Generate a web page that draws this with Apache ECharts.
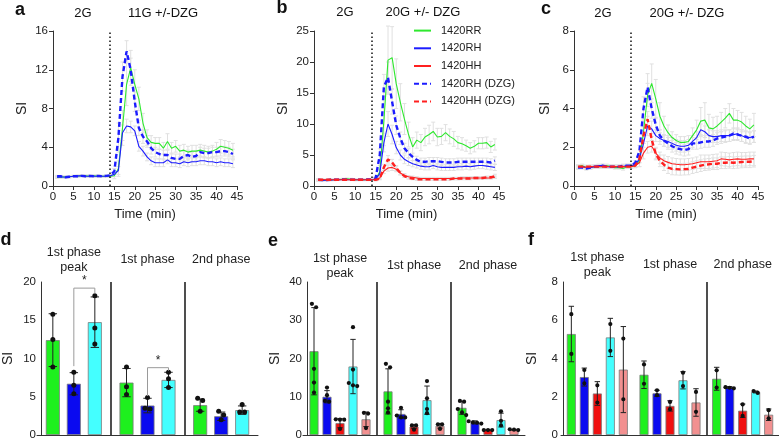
<!DOCTYPE html>
<html>
<head>
<meta charset="utf-8">
<script src="https://cdn.jsdelivr.net/npm/echarts@6/dist/echarts.min.js"></script>
<style>
  html, body { margin: 0; padding: 0; background: #fff; }
  #chart { width: 779px; height: 441px; }
</style>
</head>
<body>
<div id="chart"></div>
<script>
const FONT = "'Liberation Sans', Arial, sans-serif"

// time axis (min)
const minutes = [1,2,3,4,5,6,7,8,9,10,11,12,13,14,15,16,17,18,19,20,21,22,23,24,25,26,27,28,29,30,31,32,33,34,35,36,37,38,39,40,41,42,43,44]

// panel a : 11G +/- DZG
const aRR  = [0.9,0.9,0.95,0.95,1.0,1.0,1.05,1.05,1.0,1.05,1.0,1.0,1.0,1.0, 1.05,1.8,6.0,10.5,12.2,10.5,9.0,6.5,5.0,4.5, 4.4,4.4,3.9,4.6,3.9,4.1,3.6,3.7,3.5,3.6, 3.6,3.7,3.6,3.5,3.6,3.8,4.1,4.0,3.9,3.7]
const aRH  = [0.9,0.95,0.9,0.95,1.0,1.05,1.05,1.0,1.0,1.0,1.0,1.0,1.0,1.05, 1.2,1.6,5.5,6.2,6.1,5.7,4.1,3.6,3.0,2.6, 2.4,2.4,2.4,2.7,2.4,2.4,2.3,2.5,2.4,2.5, 2.5,2.6,2.6,2.5,2.5,2.4,2.5,2.4,2.4,2.3]
const aRHD = [1.0,1.0,0.9,0.95,1.0,1.0,1.05,1.0,1.05,1.0,1.05,1.0,1.05,1.1, 1.5,5.0,11.3,13.9,12.0,8.7,6.0,5.1,4.6,3.9, 3.5,3.3,3.2,3.2,2.9,2.8,2.8,3.1,3.2,3.0, 3.1,3.5,3.4,3.4,3.5,3.5,3.6,3.6,3.5,3.3]
const aRRerr  = [0.1,0.1,0.1,0.1,0.1,0.1,0.1,0.1,0.1,0.1,0.1,0.1,0.1,0.1, 0.3,0.8,1.8,2.2,1.8,1.5,1.2,1.0,0.8,0.7, 0.6,0.6,0.6,0.8,0.6,0.6,0.6,0.6,0.6,0.6, 0.6,0.6,0.6,0.6,0.6,0.7,0.7,0.7,0.7,0.7]
const aRHerr  = [0.1,0.1,0.1,0.1,0.1,0.1,0.1,0.1,0.1,0.1,0.1,0.1,0.1,0.1, 0.2,0.4,0.8,0.7,0.6,0.5,0.5,0.5,0.4,0.4, 0.4,0.4,0.4,0.4,0.4,0.4,0.4,0.4,0.4,0.4, 0.4,0.4,0.4,0.4,0.4,0.4,0.4,0.4,0.4,0.4]
const aRHDerr = [0.1,0.1,0.1,0.1,0.1,0.1,0.1,0.1,0.1,0.1,0.1,0.1,0.1,0.1, 0.3,1.5,1.5,1.1,1.2,1.0,0.8,0.7,0.6,0.6, 0.5,0.5,0.5,0.5,0.5,0.5,0.5,0.5,0.5,0.5, 0.5,0.5,0.5,0.5,0.5,0.5,0.5,0.5,0.5,0.5]

// panel b : 20G +/- DZG
const bRR  = [0.9,0.9,0.95,1.0,1.0,1.05,1.1,1.15,1.1,1.0,1.0,1.0,1.0,1.0, 1.1,2.3,10.5,20.3,20.7,16.5,13.5,10.8,8.3,6.3, 7.4,7.0,7.9,8.3,8.8,7.9,8.0,8.6,8.0,7.6, 7.0,6.8,6.5,6.1,6.4,6.9,6.9,7.0,6.3,6.7]
const bRH  = [0.9,0.9,0.95,0.95,1.0,1.0,1.05,1.05,1.0,1.0,1.0,1.0,1.0,1.0, 1.1,2.0,7.0,10.0,8.3,6.2,5.0,4.3,3.9,3.6, 3.4,3.2,3.1,3.1,3.3,3.1,3.0,3.0,3.0,3.0, 3.1,3.1,3.2,3.1,3.2,3.3,3.3,3.2,3.1,3.0]
const bRHD = [1.0,0.95,0.95,1.0,1.0,1.0,1.05,1.0,1.0,1.0,1.0,1.0,1.05,1.05, 1.3,5.0,16.0,17.5,13.6,9.8,7.7,6.1,5.3,4.7, 4.2,3.9,3.9,4.0,4.0,4.0,3.9,3.8,3.8,3.8, 3.9,3.9,3.9,3.9,3.9,3.9,3.9,3.9,3.8,4.1]
const bHH  = [1.05,1.05,1.0,1.0,1.0,1.0,1.0,1.0,1.0,1.0,1.0,1.0,1.0,1.0, 1.0,1.3,2.4,2.9,3.0,2.7,2.1,1.7,1.5,1.4, 1.3,1.2,1.2,1.2,1.2,1.2,1.2,1.2,1.2,1.2, 1.2,1.3,1.3,1.3,1.3,1.3,1.3,1.3,1.3,1.4]
const bHHD = [1.0,1.0,1.0,1.0,1.0,1.0,1.0,1.0,1.0,1.0,1.0,1.0,1.0,1.0, 1.0,1.2,3.0,4.3,3.8,2.9,2.1,1.6,1.3,1.2, 1.1,1.1,1.1,1.1,1.1,1.1,1.1,1.1,1.1,1.2, 1.2,1.2,1.2,1.2,1.3,1.3,1.3,1.4,1.4,1.6]
const bRRerr  = [0.15,0.15,0.15,0.15,0.15,0.15,0.15,0.15,0.15,0.15,0.15,0.15,0.15,0.15, 0.3,1.0,4.0,5.5,5.0,4.0,3.0,2.5,2.0,1.5, 1.3,1.3,1.4,1.5,1.5,1.4,1.3,1.3,1.2,1.2, 1.0,1.0,0.9,0.9,0.9,0.9,0.9,0.9,0.9,0.9]
const bRHerr  = [0.1,0.1,0.1,0.1,0.1,0.1,0.1,0.1,0.1,0.1,0.1,0.1,0.1,0.1, 0.2,0.6,1.5,2.0,1.5,1.0,0.8,0.7,0.6,0.5, 0.5,0.5,0.5,0.5,0.5,0.5,0.5,0.5,0.5,0.5, 0.5,0.5,0.5,0.5,0.5,0.5,0.5,0.5,0.5,0.5]
const bRHDerr = [0.1,0.1,0.1,0.1,0.1,0.1,0.1,0.1,0.1,0.1,0.1,0.1,0.1,0.1, 0.2,1.0,2.0,2.5,2.0,1.5,1.0,0.8,0.7,0.6, 0.6,0.6,0.6,0.6,0.6,0.6,0.6,0.6,0.6,0.6, 0.6,0.6,0.6,0.6,0.6,0.6,0.6,0.6,0.6,0.6]
const bHHerr  = [0.1,0.1,0.1,0.1,0.1,0.1,0.1,0.1,0.1,0.1,0.1,0.1,0.1,0.1, 0.1,0.2,0.4,0.5,0.5,0.4,0.3,0.3,0.2,0.2, 0.2,0.2,0.2,0.2,0.2,0.2,0.2,0.2,0.2,0.2, 0.2,0.2,0.2,0.2,0.2,0.2,0.2,0.2,0.2,0.2]
const bHHDerr = [0.1,0.1,0.1,0.1,0.1,0.1,0.1,0.1,0.1,0.1,0.1,0.1,0.1,0.1, 0.1,0.2,0.5,0.6,0.5,0.4,0.3,0.2,0.2,0.2, 0.2,0.2,0.2,0.2,0.2,0.2,0.2,0.2,0.2,0.2, 0.2,0.2,0.2,0.2,0.2,0.2,0.2,0.2,0.2,0.3]

// panel c : 20G +/- DZG
const cRR  = [1.0,1.05,0.95,0.95,1.0,1.0,1.0,1.05,1.0,0.95,0.95,0.9,1.0,1.0, 1.05,1.3,2.8,4.7,5.3,4.5,3.6,3.1,2.75,2.5, 2.35,2.25,2.25,2.3,2.6,2.9,3.35,3.4,3.0,2.95, 3.1,3.3,3.5,3.75,3.4,3.4,3.3,3.1,2.95,3.15]
const cRH  = [0.95,1.0,0.95,0.95,1.0,1.05,1.05,1.0,1.0,1.0,1.0,1.0,1.05,1.05, 1.1,1.4,2.2,3.1,2.95,2.6,2.45,2.35,2.3,2.2, 2.1,2.05,2.05,2.1,2.3,2.5,2.9,2.8,2.6,2.55, 2.55,2.6,2.6,2.6,2.65,2.7,2.6,2.5,2.5,2.55]
const cRHD = [0.95,0.95,0.9,0.95,1.0,1.0,1.05,1.0,1.0,1.0,1.0,1.05,1.05,1.05, 1.2,1.8,4.0,5.1,4.0,3.15,2.6,2.35,2.2,2.05, 1.95,1.9,1.85,1.9,2.2,2.2,2.25,2.3,2.3,2.35, 2.45,2.5,2.55,2.6,2.7,2.65,2.6,2.55,2.45,2.55]
const cHH  = [1.0,1.0,0.95,1.0,1.0,1.0,1.0,1.0,1.0,1.0,1.0,1.0,1.0,1.0, 1.05,1.2,1.7,2.0,2.05,1.7,1.45,1.3,1.22,1.15, 1.12,1.1,1.1,1.12,1.15,1.2,1.25,1.25,1.25,1.28, 1.3,1.4,1.38,1.35,1.38,1.4,1.38,1.38,1.4,1.4]
const cHHD = [1.0,1.0,1.0,1.0,1.0,1.0,1.0,1.0,1.0,1.0,1.0,1.0,1.0,1.0, 1.05,1.4,2.6,3.45,2.4,1.65,1.3,1.1,0.95,0.88, 0.87,0.86,0.87,0.88,0.95,1.0,1.05,1.1,1.12,1.15, 1.15,1.2,1.2,1.22,1.2,1.22,1.24,1.25,1.25,1.28]
const cRRerr  = [0.08,0.08,0.08,0.08,0.08,0.08,0.08,0.08,0.08,0.08,0.08,0.08,0.08,0.08, 0.1,0.3,0.6,0.6,1.0,1.0,0.7,0.5,0.4,0.3, 0.3,0.3,0.3,0.3,0.4,0.5,0.7,0.9,0.7,0.6, 0.5,0.5,0.5,0.5,0.6,0.5,0.5,0.5,0.5,0.6]
const cRHerr  = [0.08,0.08,0.08,0.08,0.08,0.08,0.08,0.08,0.08,0.08,0.08,0.08,0.08,0.08, 0.1,0.2,0.4,0.5,0.4,0.3,0.3,0.3,0.3,0.3, 0.3,0.3,0.3,0.3,0.3,0.3,0.3,0.3,0.3,0.3, 0.3,0.3,0.3,0.3,0.3,0.3,0.3,0.3,0.3,0.3]
const cRHDerr = [0.08,0.08,0.08,0.08,0.08,0.08,0.08,0.08,0.08,0.08,0.08,0.08,0.08,0.08, 0.1,0.3,0.6,0.7,0.5,0.4,0.3,0.3,0.3,0.3, 0.3,0.3,0.3,0.3,0.3,0.3,0.3,0.3,0.3,0.3, 0.3,0.3,0.3,0.3,0.3,0.3,0.3,0.3,0.3,0.3]
const cHHerr  = [0.08,0.08,0.08,0.08,0.08,0.08,0.08,0.08,0.08,0.08,0.08,0.08,0.08,0.08, 0.1,0.2,0.3,0.3,0.3,0.3,0.3,0.3,0.3,0.3, 0.3,0.3,0.3,0.3,0.3,0.3,0.35,0.35,0.35,0.35, 0.35,0.35,0.35,0.35,0.35,0.35,0.35,0.35,0.35,0.35]
const cHHDerr = [0.08,0.08,0.08,0.08,0.08,0.08,0.08,0.08,0.08,0.08,0.08,0.08,0.08,0.08, 0.1,0.2,0.4,0.4,0.3,0.3,0.3,0.3,0.3,0.3, 0.3,0.3,0.3,0.3,0.3,0.3,0.3,0.3,0.3,0.3, 0.3,0.3,0.3,0.3,0.3,0.3,0.3,0.3,0.3,0.3]

// bar panels
const phases = ['1st phase\npeak', '1st phase', '2nd phase']

const dRR  = [12.4, 6.85, 3.9],  dRRsd  = [3.45, 1.85, 0.8],  dRRpts  = [[15.8, 12.5, 8.9], [8.9, 6.3, 5.3], [4.8, 4.5, 3.1]]
const dRH  = [6.7, 3.85, 2.45],  dRHsd  = [1.45, 0.95, 0.55], dRHpts  = [[8.2, 6.5, 5.4], [4.9, 3.5, 3.4], [3.1, 2.6, 2.0]]
const dRHD = [14.75, 7.2, 3.25], dRHDsd = [3.3, 1.0, 0.55],   dRHDpts = [[18.2, 14.0, 11.9], [8.2, 7.35, 6.2], [4.0, 3.0, 3.0]]
const dSig = [[0, 1, 2, 19.2, 9.0, 18.5], [1, 1, 2, 8.8, 5.1, 8.4]]

const eRR  = [21.9, 11.4, 7.1], eRRsd  = [11.4, 5.9, 1.7],  eRRpts  = [[34.3, 33.4, 17.3, 13.7, 11.1], [18.6, 17.7, 8.7, 7.0, 5.9], [8.9, 8.7, 6.8, 5.9, 5.2]]
const eRH  = [10.0, 5.5, 3.3],  eRHsd  = [1.6, 1.1, 0.4],   eRHpts  = [[12.4, 10.4, 8.9, 8.7], [7.1, 5.1, 4.6, 4.6], [3.6, 3.3, 3.2, 3.0]]
const eHH  = [3.1, 2.2, 1.3],   eHHsd  = [1.2, 0.5, 0.1],   eHHpts  = [[4.1, 4.0, 4.0, 1.6], [2.5, 2.5, 1.4], [1.3, 1.3, 1.3]]
const eRHD = [17.9, 9.1, 3.9],  eRHDsd = [7.1, 3.7, 1.8],   eRHDpts = [[28.2, 17.1, 13.6, 13.0, 12.8], [14.1, 9.6, 6.8, 5.7], [6.2, 3.7, 2.5]]
const eHHD = [4.1, 2.4, 1.35],  eHHDsd = [1.9, 0.6, 0.1],   eHHDpts = [[5.8, 5.6, 1.8], [2.8, 2.8, 1.6], [1.5, 1.4, 1.3]]

const fRR  = [5.28, 3.15, 2.94], fRRsd  = [1.45, 0.72, 0.6],  fRRpts  = [[6.32, 4.24], [3.69, 2.68], [3.38, 2.48]]
const fRH  = [3.03, 2.18, 2.49], fRHsd  = [0.47, 0.16, 0.04], fRHpts  = [[3.4, 2.7], [2.34, 2.08], [2.44, 2.47, 2.5]]
const fHH  = [2.17, 1.52, 1.27], fHHsd  = [0.62, 0.27, 0.35], fHHpts  = [[2.6, 1.7], [1.73, 1.35], [1.6, 1.0]]
const fRHD = [5.1, 2.86, 2.25],  fRHDsd = [1.0, 0.45, 0.05],  fRHDpts = [[5.8, 4.4], [3.26, 2.56], [2.2, 2.3]]
const fHHD = [3.42, 1.7, 1.06],  fHHDsd = [2.25, 0.72, 0.3],  fHHDpts = [[5.04, 1.87], [2.25, 1.21], [1.3, 0.87]]

const GREEN = '#2ee82e', BLUE = '#1c1cff', RED = '#ff2020'
const BAR = { RR: '#1ef01e', RH: '#0a0af0', HH: '#f01010', RHD: '#44ffff', HHD: '#f29090' }

const chart = echarts.init(document.getElementById('chart'))
const series = []

const lineSeries = (name, vals, idx, color, dashed, mark) => {
  const s = {
    name, type: 'line', xAxisIndex: idx, yAxisIndex: idx,
    data: minutes.map((m, i) => [m, vals[i]]),
    symbol: 'none', z: dashed ? 4 : 3, silent: true,
    lineStyle: { color, width: dashed ? 2.4 : 1.1, type: dashed ? [5, 3] : 'solid' },
    itemStyle: { color }
  }
  if (mark) {
    s.markLine = {
      silent: true, symbol: 'none', label: { show: false },
      lineStyle: { type: [1.5, 2.5], color: '#111', width: 1.5 },
      data: [{ xAxis: 14 }]
    }
  }
  return s
}

const errSeries = (vals, errs, idx) => ({
  type: 'custom', xAxisIndex: idx, yAxisIndex: idx, z: 1, silent: true,
  data: minutes.map((m, i) => [m, vals[i], errs[i]]),
  renderItem: (params, api) => {
    const x = api.value(0), v = api.value(1), e = api.value(2)
    const hi = api.coord([x, v + e]), lo = api.coord([x, v - e])
    const style = { stroke: '#e0e0e0', lineWidth: 1 }
    return {
      type: 'group', children: [
        { type: 'line', shape: { x1: hi[0], y1: hi[1], x2: lo[0], y2: lo[1] }, style },
        { type: 'line', shape: { x1: hi[0] - 2, y1: hi[1], x2: hi[0] + 2, y2: hi[1] }, style },
        { type: 'line', shape: { x1: lo[0] - 2, y1: lo[1], x2: lo[0] + 2, y2: lo[1] }, style }
      ]
    }
  }
})

// panel a
series.push(errSeries(aRR, aRRerr, 0), errSeries(aRH, aRHerr, 0), errSeries(aRHD, aRHDerr, 0))
series.push(lineSeries('1420RR', aRR, 0, GREEN, false, true))
series.push(lineSeries('1420RH', aRH, 0, BLUE, false))
series.push(lineSeries('1420RH (DZG)', aRHD, 0, BLUE, true))
// panel b
series.push(errSeries(bRR, bRRerr, 1), errSeries(bRH, bRHerr, 1), errSeries(bRHD, bRHDerr, 1),
  errSeries(bHH, bHHerr, 1), errSeries(bHHD, bHHDerr, 1))
series.push(lineSeries('1420RR', bRR, 1, GREEN, false, true))
series.push(lineSeries('1420RH', bRH, 1, BLUE, false))
series.push(lineSeries('1420HH', bHH, 1, RED, false))
series.push(lineSeries('1420RH (DZG)', bRHD, 1, BLUE, true))
series.push(lineSeries('1420HH (DZG)', bHHD, 1, RED, true))
// panel c
series.push(errSeries(cRR, cRRerr, 2), errSeries(cRH, cRHerr, 2), errSeries(cRHD, cRHDerr, 2),
  errSeries(cHH, cHHerr, 2), errSeries(cHHD, cHHDerr, 2))
series.push(lineSeries('1420RR', cRR, 2, GREEN, false, true))
series.push(lineSeries('1420RH', cRH, 2, BLUE, false))
series.push(lineSeries('1420HH', cHH, 2, RED, false))
series.push(lineSeries('1420RH (DZG)', cRHD, 2, BLUE, true))
series.push(lineSeries('1420HH (DZG)', cHHD, 2, RED, true))

// bar panels: groups = [[mean, sd, pts, color], ...]
const barPanel = (groups, xIdx, yIdx, bw, gap, dot, sig) => {
  const n = groups.length
  const offsetOf = (s) => (s - (n - 1) / 2) * (bw + gap)
  groups.forEach(([mean, sd, pts, color], s) => {
    series.push({
      type: 'bar', xAxisIndex: xIdx, yAxisIndex: yIdx, data: mean, silent: true,
      barWidth: bw, barGap: (gap / bw * 100) + '%', z: 2,
      itemStyle: { color, borderColor: '#7a7a7a', borderWidth: 0.8 }
    })
    series.push({
      type: 'custom', xAxisIndex: xIdx, yAxisIndex: yIdx, z: 5, silent: true,
      data: mean.map((m, c) => [c, m, sd[c]]),
      renderItem: (params, api) => {
        const c = params.dataIndex
        const m = api.value(1), e = api.value(2)
        const base = api.coord([c, m])
        const x = base[0] + offsetOf(s)
        const hi = api.coord([c, m + e])[1], lo = api.coord([c, m - e])[1]
        const st = { stroke: '#222', lineWidth: 1 }
        const cap = bw * 0.3
        const children = [
          { type: 'line', shape: { x1: x, y1: hi, x2: x, y2: lo }, style: st },
          { type: 'line', shape: { x1: x - cap, y1: hi, x2: x + cap, y2: hi }, style: st },
          { type: 'line', shape: { x1: x - cap, y1: lo, x2: x + cap, y2: lo }, style: st }
        ]
        // points, spread sideways when they overlap
        const ys = pts[c].map(v => api.coord([c, v])[1]).sort((p, q) => p - q)
        const clusters = []
        ys.forEach(y => {
          const last = clusters[clusters.length - 1]
          if (last && y - last[last.length - 1] < dot * 1.8) last.push(y)
          else clusters.push([y])
        })
        clusters.forEach(cl => {
          cl.forEach((y, j) => {
            const dx = (j - (cl.length - 1) / 2) * dot * 2
            children.push({ type: 'circle', shape: { cx: x + dx, cy: y, r: dot }, style: { fill: '#111' } })
          })
        })
        return { type: 'group', children }
      }
    })
  })
  if (sig) {
    series.push({
      type: 'custom', xAxisIndex: xIdx, yAxisIndex: yIdx, z: 6, silent: true,
      data: sig,
      renderItem: (params, api) => {
        const [c, s1, s2, top, yl, yr] = sig[params.dataIndex]
        const base = api.coord([c, top])
        const x1 = base[0] + offsetOf(s1), x2 = base[0] + offsetOf(s2)
        const yL = api.coord([c, yl])[1], yR = api.coord([c, yr])[1]
        const st = { stroke: '#9a9a9a', lineWidth: 1 }
        return {
          type: 'group', children: [
            { type: 'polyline', shape: { points: [[x1, yL], [x1, base[1]], [x2, base[1]], [x2, yR]] }, style: { ...st, fill: null } },
            { type: 'text', style: { text: '*', x: (x1 + x2) / 2, y: base[1] - 1, textAlign: 'center', textVerticalAlign: 'bottom', font: '12px ' + FONT, fill: '#222' } }
          ]
        }
      }
    })
  }
}

barPanel([[dRR, dRRsd, dRRpts, BAR.RR], [dRH, dRHsd, dRHpts, BAR.RH], [dRHD, dRHDsd, dRHDpts, BAR.RHD]], 3, 3, 14, 7, 2.5, dSig)
barPanel([[eRR, eRRsd, eRRpts, BAR.RR], [eRH, eRHsd, eRHpts, BAR.RH], [eHH, eHHsd, eHHpts, BAR.HH],
  [eRHD, eRHDsd, eRHDpts, BAR.RHD], [eHHD, eHHDsd, eHHDpts, BAR.HHD]], 5, 4, 9, 4, 2.1)
barPanel([[fRR, fRRsd, fRRpts, BAR.RR], [fRH, fRHsd, fRHpts, BAR.RH], [fHH, fHHsd, fHHpts, BAR.HH],
  [fRHD, fRHDsd, fRHDpts, BAR.RHD], [fHHD, fHHDsd, fHHDpts, BAR.HHD]], 7, 5, 9, 4, 2.1)

const axisLine = { lineStyle: { color: '#333', width: 1 } }
const axisTick = { length: 4, lineStyle: { color: '#333' } }
const axisLabel = { color: '#222', fontSize: 11.5, fontFamily: FONT, margin: 5 }

const timeAxis = (g) => ({
  type: 'value', gridIndex: g, min: 0, max: 45, interval: 5,
  name: 'Time (min)', nameLocation: 'middle', nameGap: 22,
  nameTextStyle: { color: '#222', fontSize: 13, fontFamily: FONT },
  axisLine: { show: true, ...axisLine }, axisTick, axisLabel, splitLine: { show: false }
})
const siAxis = (g, max, interval, gap, offset) => ({
  type: 'value', gridIndex: g, min: 0, max, interval, offset: offset || 0,
  name: 'SI', nameLocation: 'middle', nameGap: gap,
  nameTextStyle: { color: '#222', fontSize: 14, fontFamily: FONT },
  axisLine: { show: true, ...axisLine }, axisTick, axisLabel, splitLine: { show: false }
})
const phaseBottom = (g) => ({
  type: 'category', gridIndex: g, data: phases, position: 'bottom',
  axisLine: { show: true, ...axisLine }, axisTick: { show: false }, axisLabel: { show: false },
  splitLine: { show: true, showMinLine: false, showMaxLine: false, lineStyle: { color: '#222', width: 1.6 } }
})
const phaseTop = (g, margin) => ({
  type: 'category', gridIndex: g, data: phases, position: 'top',
  axisLine: { show: false }, axisTick: { show: false }, splitLine: { show: false },
  axisLabel: { interval: 0, color: '#222', fontSize: 12.5, fontFamily: FONT, margin, verticalAlign: 'middle', lineHeight: 15 }
})

const txt = (text, x, y, size, bold) => ({
  type: 'text', x, y, silent: true,
  style: { text, font: (bold ? 'bold ' : '') + size + 'px ' + FONT, fill: '#111', textAlign: 'center', textVerticalAlign: 'middle' }
})

chart.setOption({
  animation: false,
  backgroundColor: '#fff',
  grid: [
    { left: 53, top: 31, width: 184, height: 155 },
    { left: 314, top: 31, width: 185, height: 155 },
    { left: 574, top: 31, width: 184, height: 155 },
    { left: 34, top: 282, width: 224, height: 155 },
    { left: 303, top: 282, width: 222, height: 155 },
    { left: 561, top: 282, width: 219, height: 154 }
  ],
  xAxis: [
    timeAxis(0), timeAxis(1), timeAxis(2),
    phaseBottom(3), phaseTop(3, 22),
    phaseBottom(4), phaseTop(4, 16),
    phaseBottom(5), phaseTop(5, 17)
  ],
  yAxis: [
    siAxis(0, 16, 4, 24), siAxis(1, 25, 5, 24), siAxis(2, 8, 2, 22),
    siAxis(3, 20, 5, 26, -4), siAxis(4, 40, 10, 25, -4), siAxis(5, 8, 2, 24, -2)
  ],
  legend: {
    data: ['1420RR', '1420RH', '1420HH', '1420RH (DZG)', '1420HH (DZG)'],
    orient: 'vertical', left: 413, top: 25, padding: 0,
    itemWidth: 17, itemHeight: 14, itemGap: 6.5, selectedMode: false,
    itemStyle: { opacity: 0 },
    textStyle: { color: '#222', fontSize: 11, fontFamily: FONT, padding: [0, 0, 0, 5] }
  },
  graphic: [
    txt('a', 20, 10, 18, true), txt('2G', 83, 13, 13), txt('11G +/-DZG', 163, 13, 13),
    txt('b', 282, 8, 18, true), txt('2G', 345, 12, 13), txt('20G +/- DZG', 423, 12, 13),
    txt('c', 546, 9, 18, true), txt('2G', 603, 13, 13), txt('20G +/- DZG', 687, 13, 13),
    txt('d', 6, 240, 18, true), txt('e', 273, 241, 18, true), txt('f', 531, 240, 18, true)
  ],
  series
})
</script>
</body>
</html>
